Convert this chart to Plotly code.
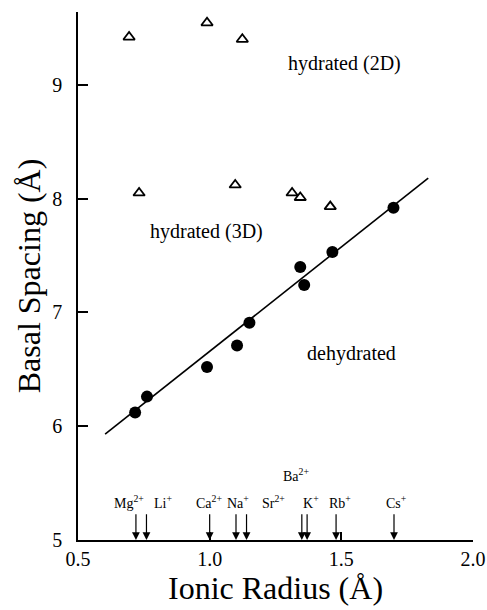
import plotly.graph_objects as go

# Data
hyd_x = [0.694, 0.99, 1.124, 0.732, 1.097, 1.313, 1.344, 1.458]
hyd_y = [9.42, 9.545, 9.40, 8.05, 8.12, 8.05, 8.01, 7.93]

dehyd_x = [0.717, 0.762, 0.99, 1.104, 1.151, 1.344, 1.359, 1.466, 1.698]
dehyd_y = [6.12, 6.26, 6.52, 6.71, 6.91, 7.40, 7.24, 7.53, 7.92]

fit_x = [0.603, 1.83]
fit_y = [5.93, 8.18]

ion_names = ["Mg<sup>2+</sup>", "Li<sup>+</sup>", "Ca<sup>2+</sup>", "Na<sup>+</sup>",
             "Sr<sup>2+</sup>", "Ba<sup>2+</sup>", "K<sup>+</sup>", "Rb<sup>+</sup>", "Cs<sup>+</sup>"]
ion_radius = [0.72, 0.76, 1.00, 1.10, 1.14, 1.35, 1.37, 1.48, 1.70]
label_x = [0.694, 0.823, 0.998, 1.106, 1.241, 1.327, 1.386, 1.496, 1.711]
label_y = [5.33, 5.33, 5.33, 5.33, 5.33, 5.57, 5.33, 5.33, 5.33]

x_ticks = [0.5, 1.0, 1.5, 2.0]
x_ticktext = ["0.5", "1.0", "1.5", "2.0"]
y_ticks = [5, 6, 7, 8, 9]

FONT = "Liberation Serif"

fig = go.Figure()
fig.add_trace(go.Scatter(x=fit_x, y=fit_y, mode="lines",
                         line=dict(color="black", width=1.6), showlegend=False))
fig.add_trace(go.Scatter(x=hyd_x, y=hyd_y, mode="markers",
                         marker=dict(symbol="triangle-up-open", size=10,
                                     color="black", line=dict(width=1.8)),
                         showlegend=False))
fig.add_trace(go.Scatter(x=dehyd_x, y=dehyd_y, mode="markers",
                         marker=dict(symbol="circle", size=12, color="black"),
                         showlegend=False))

annotations = []
for r in ion_radius:
    annotations.append(dict(x=r, y=5.0, ax=r, ay=5.24, xref="x", yref="y",
                            axref="x", ayref="y", text="", showarrow=True,
                            arrowhead=2, arrowsize=1.3, arrowwidth=1.2,
                            arrowcolor="black"))
for name, lx, ly in zip(ion_names, label_x, label_y):
    annotations.append(dict(x=lx, y=ly, xref="x", yref="y", text=name,
                            showarrow=False,
                            font=dict(family=FONT, size=14, color="black")))

for txt, tx, ty in [("hydrated (2D)", 1.511, 9.19),
                    ("hydrated (3D)", 0.987, 7.71),
                    ("dehydrated", 1.538, 6.64)]:
    annotations.append(dict(x=tx, y=ty, xref="x", yref="y", text=txt,
                            showarrow=False,
                            font=dict(family=FONT, size=20, color="black")))

fig.update_layout(
    width=487, height=610,
    margin=dict(l=78, r=14, t=12, b=70),
    paper_bgcolor="white", plot_bgcolor="white",
    font=dict(family=FONT, color="black"),
    annotations=annotations,
    xaxis=dict(range=[0.5, 2.0], tickvals=x_ticks, ticktext=x_ticktext,
               ticks="inside", ticklen=8, tickwidth=1.5, tickcolor="black",
               showline=True, linecolor="black", linewidth=1.6,
               showgrid=False, zeroline=False, automargin=False,
               tickfont=dict(family=FONT, size=20),
               title=dict(text="Ionic Radius (Å)", font=dict(family=FONT, size=32),
                          standoff=8)),
    yaxis=dict(range=[5.0, 9.64], tickvals=y_ticks,
               ticks="inside", ticklen=10, tickwidth=1.5, tickcolor="black",
               showline=True, linecolor="black", linewidth=1.6,
               showgrid=False, zeroline=False, ticklabelstandoff=10,
               automargin=False,
               tickfont=dict(family=FONT, size=20),
               title=dict(text="Basal Spacing (Å)", font=dict(family=FONT, size=32),
                          standoff=2)),
)

fig.write_html("out.html")
